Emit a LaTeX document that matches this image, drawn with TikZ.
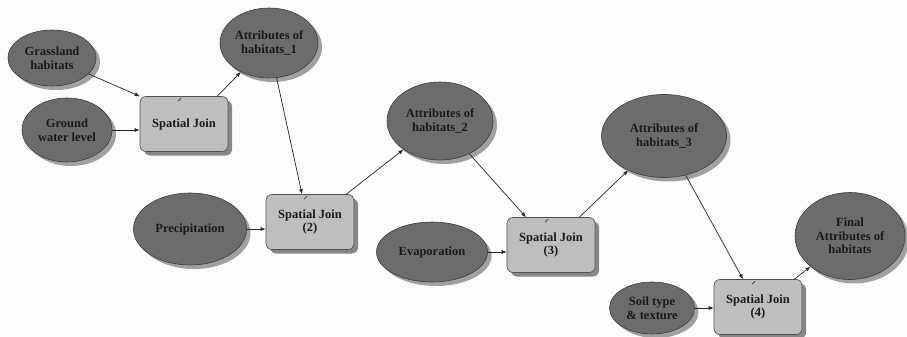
\documentclass[tikz,border=0pt]{standalone}
\usepackage{fontspec}
\setmainfont{Liberation Serif}
\usetikzlibrary{shapes.geometric,shadows,arrows.meta}

\begin{document}
\begin{tikzpicture}[x=1pt,y=-1pt,
  font=\fontsize{12.5}{13.5}\selectfont\bfseries,
  data/.style={ellipse, draw=ellline, line width=0.6pt, fill=ellfill,
    text=txtdark, align=center, inner sep=0pt,
    copy shadow={shadow xshift=4pt, shadow yshift=-4pt, fill=ellshadow, draw=none}},
  tool/.style={rectangle, rounded corners=6pt, draw=boxline, line width=0.6pt,
    fill=boxfill, text=txtdark, align=center, minimum width=88pt,
    minimum height=55pt, inner sep=0pt,
    copy shadow={shadow xshift=4pt, shadow yshift=-4pt, fill=boxshadow, draw=none}},
  link/.style={-{Latex[length=5pt,width=4pt]}, line width=0.7pt, black!85}]

% === Colors ===
\definecolor{ellfill}{RGB}{108,108,108}
\definecolor{ellline}{RGB}{60,60,60}
\definecolor{ellshadow}{RGB}{160,160,160}
\definecolor{boxfill}{RGB}{190,190,190}
\definecolor{boxline}{RGB}{80,80,80}
\definecolor{boxshadow}{RGB}{135,135,135}
\definecolor{txtdark}{RGB}{25,25,25}
\definecolor{bgpaper}{RGB}{252,252,252}

% === Canvas ===
\fill[bgpaper] (0,0) rectangle (907,337);
\useasboundingbox (0,0) rectangle (907,337);

% === Inputs ===
\node[data, minimum width=88pt, minimum height=56pt] (grass) at (52,58) {Grassland\\habitats};
\node[data, minimum width=90pt, minimum height=64pt] (ground) at (67,130) {Ground\\water level};
\node[data, minimum width=113pt, minimum height=72pt] (precip) at (190,229) {Precipitation};
\node[data, minimum width=111pt, minimum height=60pt] (evap) at (432,252) {Evaporation};
\node[data, minimum width=85pt, minimum height=52pt] (soil) at (652,308) {Soil type\\\& texture};

% === Spatial joins ===
\node[tool] (join1) at (184,124) {Spatial Join};
\node[tool] (join2) at (310,222) {Spatial Join\\(2)};
\node[tool] (join3) at (551,245) {Spatial Join\\(3)};
\node[tool] (join4) at (758,307) {Spatial Join\\(4)};

% === Outputs ===
\node[data, minimum width=98pt, minimum height=70pt] (attr1) at (269,43) {Attributes of\\habitats\_1};
\node[data, minimum width=106pt, minimum height=78pt] (attr2) at (440,121) {Attributes of\\habitats\_2};
\node[data, minimum width=125pt, minimum height=83pt] (attr3) at (664,136) {Attributes of\\habitats\_3};
\node[data, minimum width=110pt, minimum height=87pt] (final) at (850,236) {Final\\Attributes of\\habitats};

% === Pencil marks on the tools ===
\foreach \j in {join1,join2,join3,join4}{
  \draw[black!70, line width=0.8pt] ([shift={(-6pt,-5pt)}]\j.north) -- ([shift={(-3pt,-2pt)}]\j.north);
}

% === Connectors ===
\draw[link] (grass) -- (join1.north west);
\draw[link] (ground.east) -- (ground.east -| join1.west);
\draw[link] ([xshift=-11pt]join1.north east) -- (attr1);
\draw[link] (attr1) -- ([xshift=-8pt]join2.north);
\draw[link] (precip.east) -- (precip.east -| join2.west);
\draw[link] ([xshift=-8pt]join2.north east) -- (attr2);
\draw[link] (attr2) -- ([xshift=-25pt]join3.north);
\draw[link] (evap.east) -- (evap.east -| join3.west);
\draw[link] ([xshift=-16pt]join3.north east) -- (attr3);
\draw[link] (attr3) -- ([xshift=-15pt]join4.north);
\draw[link] (soil.east) -- (soil.east -| join4.west);
\draw[link] ([xshift=-8pt]join4.north east) -- (final);

\end{tikzpicture}
\end{document}
